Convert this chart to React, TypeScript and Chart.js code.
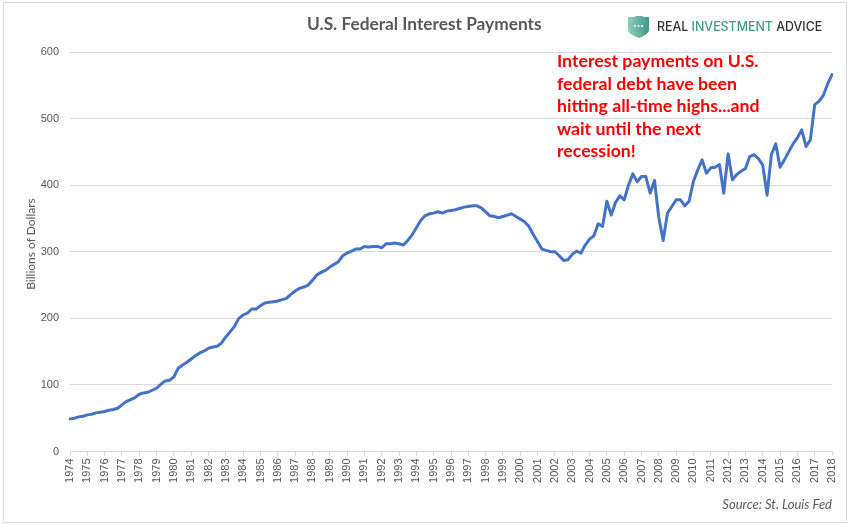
import React, { useEffect, useRef } from "react";
import Chart from "chart.js/auto";

const startYear = 1974;
const endYear = 2018;

// quarterly values, billions of dollars
const payments = [
  49, 50, 52, 53, 55, 56, 58, 59, 60, 62, 63, 65, // 1974-76
  70, 75, 78, 81, 86, 88, 89, 92, 95, 101, 106, 107, // 1977-79
  112, 125, 130, 134, 139, 144, 148, 151, 155, 157, 158, 163, // 1980-82
  172, 180, 188, 200, 205, 208, 214, 214, 219, 223, 224, 225, // 1983-85
  226, 228, 230, 236, 241, 245, 247, 250, 257, 265, 269, 272, // 1986-88
  277, 281, 285, 294, 298, 301, 304, 304, 308, 307, 308, 308, // 1989-91
  306, 312, 312, 313, 312, 310, 317, 325, 336, 347, 354, 357, // 1992-94
  358, 360, 358, 361, 362, 363, 365, 367, 368, 369, 369, 366, // 1995-97
  360, 354, 353, 351, 353, 355, 357, 353, 349, 345, 338, 326, // 1998-2000
  315, 304, 302, 300, 300, 294, 287, 288, 296, 301, 298, 310, // 2001-03
  319, 324, 342, 338, 376, 355, 374, 384, 378, 400, 417, 405, // 2004-06
  413, 413, 388, 407, 351, 317, 358, 368, 378, 378, 369, 376, // 2007-09
  406, 423, 438, 418, 426, 427, 431, 388, 447, 408, 416, 421, // 2010-12
  425, 443, 446, 440, 430, 385, 446, 462, 427, 438, 450, 462, // 2013-15
  471, 483, 458, 468, 521, 526, 535, 552, // 2016-17
  566, // 2018
];

const quarters: string[] = [];
for (let y = startYear; y <= endYear; y++) {
  for (let q = 0; q < 4; q++) {
    if (y === endYear && q > 0) break;
    quarters.push(q === 0 ? String(y) : y + " Q" + (q + 1));
  }
}

const noteLines = [
  "Interest payments on U.S.",
  "federal debt have been",
  "hitting all-time highs...and",
  "wait until the next",
  "recession!",
];

const tickFont = { family: "'Liberation Sans', Arial, sans-serif", size: 11 };

export default function App() {
  const chartRef = useRef<HTMLCanvasElement | null>(null);

  useEffect(() => {
    if (!chartRef.current) return;
    const chart = new Chart(chartRef.current, {
      type: "line",
      data: {
        labels: quarters,
        datasets: [{
          label: "Interest payments",
          data: payments,
          borderColor: "#4472C4",
          borderWidth: 3,
          pointRadius: 0,
          tension: 0,
          borderJoinStyle: "round",
          borderCapStyle: "round",
        }],
      },
      options: {
        animation: false,
        responsive: false,
        layout: { padding: { top: 52, right: 17, left: 0, bottom: 0 } },
        plugins: { legend: { display: false }, title: { display: false }, tooltip: { enabled: false } },
        scales: {
          x: {
            type: "category",
            offset: false,
            afterBuildTicks: (scale: any) => {
              scale.ticks = scale.ticks.filter((t: any) => t.value % 4 === 0);
            },
            afterFit: (scale: any) => { scale.height = 72.5; },
            ticks: {
              autoSkip: false,
              maxRotation: 90,
              minRotation: 90,
              color: "#595959",
              font: tickFont,
              padding: 3,
              callback: function (this: any, value: any) {
                return this.getLabelForValue(value);
              },
            },
            grid: { drawOnChartArea: false, color: "#d9d9d9", tickLength: 4 },
            border: { color: "#d9d9d9" },
          },
          y: {
            min: 0,
            max: 600,
            afterFit: (scale: any) => { scale.width = 70; },
            ticks: { stepSize: 100, color: "#595959", font: tickFont, padding: 11 },
            grid: { color: "#d9d9d9", drawTicks: false },
            border: { display: false },
          },
        },
      },
    });
    return () => chart.destroy();
  }, []);

  return (
    <div style={{ position: "fixed", left: 0, top: 0, width: 849, height: 524, background: "#fff", overflow: "hidden" }}>
      <canvas ref={chartRef} width={849} height={524} style={{ position: "absolute", left: 0, top: 0 }}></canvas>
      <div style={{ position: "absolute", left: 3, top: 2, width: 842, height: 519, border: "1px solid #d9d9d9" }}></div>
      <div style={{ position: "absolute", left: 307, top: 13, font: "bold 17.3px Lato, sans-serif", color: "#595959", whiteSpace: "nowrap" }}>
        U.S. Federal Interest Payments
      </div>
      <div style={{ position: "absolute", left: 30, top: 244, width: 0, height: 0 }}>
        <div style={{ position: "absolute", transform: "translate(-50%, -50%) rotate(-90deg)", font: "12px Lato, sans-serif", color: "#595959", whiteSpace: "nowrap" }}>
          Billions of Dollars
        </div>
      </div>
      <svg style={{ position: "absolute", left: 628, top: 16 }} width={22} height={23} viewBox="0 0 22 23">
        <defs>
          <linearGradient id="shield" x1="0" y1="0" x2="1" y2="0">
            <stop offset="0" stopColor="#8fcfb8" />
            <stop offset="1" stopColor="#3f9a8a" />
          </linearGradient>
        </defs>
        <path d="M0 1 L6 1 L8 0 L14 0 L16 1 L21 1 L21 14 Q21 18 11 22 Q0 18 0 14 Z" fill="url(#shield)" />
        <circle cx="7" cy="10" r="1" fill="#fff" />
        <circle cx="10.5" cy="10" r="1" fill="#fff" />
        <circle cx="14" cy="10" r="1" fill="#fff" />
      </svg>
      <div style={{ position: "absolute", left: 657, top: 19, font: "500 12.4px Inter, sans-serif", color: "#333", whiteSpace: "nowrap" }}>
        REAL <span style={{ color: "#3f9b86" }}>INVESTMENT</span> ADVICE
      </div>
      <div style={{ position: "absolute", left: 557, top: 50, font: "bold 17.7px/22.5px Lato, sans-serif", color: "#ff0000", whiteSpace: "nowrap" }}>
        {noteLines.map((line) => <div key={line}>{line}</div>)}
      </div>
      <div style={{ position: "absolute", right: 17, top: 496, font: "italic 13px Lato, sans-serif", color: "#595959", whiteSpace: "nowrap" }}>
        Source: St. Louis Fed
      </div>
    </div>
  );
}
